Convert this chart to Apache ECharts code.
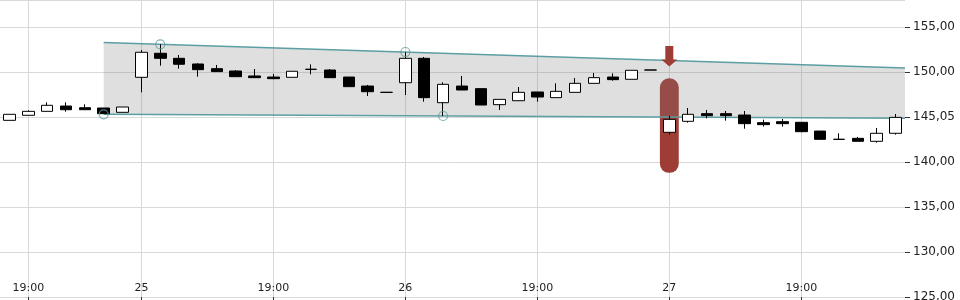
<!DOCTYPE html>
<html>
<head>
<meta charset="utf-8">
<style>
  html, body { margin: 0; padding: 0; background: #fff; }
  #chart { width: 960px; height: 300px; }
</style>
<script src="https://cdn.jsdelivr.net/npm/echarts@6/dist/echarts.min.js"></script>
</head>
<body>
<div id="chart"></div>
<script>
// ---- data ----
const categories = ['0','1','2','3','4','5','6','7','8','9','10','11','12','13','14','15','16','17','18','19','20','21','22','23','24','25','26','27','28','29','30','31','32','33','34','35','36','37','38','39','40','41','42','43','44','45','46','47'];
const tickIndex  = [1, 7, 14, 21, 28, 35, 42];
const tickLabels = ['19:00', '25', '19:00', '26', '19:00', '27', '19:00'];

const opens  = [144.63,145.19,145.63,146.22,146.03,146.00,145.52,149.41,152.08,151.52,150.89,150.37,150.11,149.56,149.44,149.41,150.30,150.22,149.44,148.44,147.74,148.81,151.52,146.59,148.44,148.15,146.37,146.81,147.78,147.15,147.74,148.74,149.44,149.19,150.22,143.30,144.52,145.37,145.37,145.22,144.37,144.48,144.41,143.44,142.52,142.63,142.30,143.19];
const closes = [145.30,145.63,146.30,145.81,145.81,145.37,146.11,152.19,151.52,150.86,150.26,150.04,149.48,149.37,149.26,150.08,150.30,149.37,148.37,147.81,147.74,151.52,147.15,148.63,148.00,146.33,146.96,147.74,147.22,147.85,148.74,149.37,149.15,150.19,150.22,144.74,145.30,145.15,145.15,144.26,144.15,144.26,143.37,142.52,142.52,142.30,143.19,144.96];
const lows   = [144.63,145.19,145.63,145.59,145.81,145.37,145.52,147.74,150.70,150.37,149.48,150.04,149.48,149.37,149.19,149.41,149.74,149.37,148.37,147.33,147.74,147.44,146.70,145.11,148.00,146.33,145.78,146.81,146.70,147.15,147.74,148.74,149.03,149.19,150.22,143.04,144.37,144.85,144.59,143.70,143.93,143.93,143.30,142.52,142.52,142.30,142.15,143.04];
const highs  = [145.30,145.74,146.63,146.63,146.41,146.00,146.11,152.44,153.08,151.89,150.97,150.78,150.22,150.33,149.78,150.08,150.85,150.33,149.44,148.56,147.74,152.19,151.67,148.85,149.56,148.15,146.96,148.33,147.78,148.74,149.33,149.89,149.85,150.19,150.22,145.11,146.00,145.78,145.67,145.67,144.70,144.78,144.41,143.44,143.19,142.78,143.78,145.33];

// trend channel (x in category index units)
const channelX     = [5, 47.5];
const channelUpper = [153.28, 150.44];
const channelLower = [145.30, 144.86];
const anchorX      = [5, 8, 21, 23];
const anchorY      = [145.30, 153.08, 152.22, 145.11];

// highlight marker
const highlightIndex  = 35;
const highlightTop    = 149.3;
const highlightBottom = 138.8;
const arrowTop        = 152.9;
const arrowTip        = 150.6;

const yTicksLabelOverride = { 145: '145,05' };

// ---- chart ----
const chart = echarts.init(document.getElementById('chart'), null, { renderer: 'canvas' });
const candleData = opens.map((o, i) => [o, closes[i], lows[i], highs[i]]);
const isTick = (i) => tickIndex.indexOf(i) >= 0;
const TEAL = '#5c9ea3';
const RED = '#9e3c36';

const option = {
  animation: false,
  backgroundColor: '#fff',
  grid: { left: 0, right: 55, top: 0, bottom: 3, containLabel: false, outerBoundsMode: 'none' },
  xAxis: [
    {
      type: 'category',
      data: categories,
      boundaryGap: true,
      axisLine: { show: false, onZero: false },
      axisTick: {
        show: true, alignWithLabel: true, length: 4, inside: false,
        interval: (i) => isTick(i),
        lineStyle: { color: '#333' }
      },
      axisLabel: {
        inside: true, margin: 3, interval: (i) => isTick(i),
        formatter: (v, i) => { const k = tickIndex.indexOf(i); return k >= 0 ? tickLabels[k] : ''; },
        color: '#222', fontSize: 11, fontFamily: 'DejaVu Sans'
      },
      splitLine: { show: false }
    },
    {
      type: 'value', min: -0.5, max: 47.5, show: false,
      axisLine: { show: false, onZero: false },
      splitLine: { show: false }
    }
  ],
  yAxis: {
    type: 'value', position: 'right', min: 125, max: 158, interval: 5, scale: true,
    axisLine: { show: false, onZero: false },
    axisTick: { show: true, length: 5, inside: false, lineStyle: { color: '#333' } },
    axisLabel: {
      margin: 8, showMaxLabel: false, color: '#222', fontSize: 12, fontFamily: 'DejaVu Sans',
      formatter: (v) => (v >= 158 ? '' : (yTicksLabelOverride[v] || v.toFixed(2).replace('.', ',')))
    },
    splitLine: { show: true, lineStyle: { color: '#d9d9d9', width: 1 } }
  },
  series: [
    {
      // vertical grid lines at labelled positions
      type: 'custom', xAxisIndex: 1, silent: true, z: 0,
      data: tickIndex.map((i) => [i]),
      renderItem: (params, api) => {
        const a = api.coord([api.value(0), 158]);
        const b = api.coord([api.value(0), 125]);
        const x = Math.round(a[0]) + 0.5;
        return { type: 'line', shape: { x1: x, y1: a[1], x2: x, y2: b[1] + 3 }, style: { stroke: '#d9d9d9', lineWidth: 1 } };
      }
    },
    {
      // highlight rounded bar
      type: 'custom', xAxisIndex: 1, silent: true, z: 1,
      data: [[highlightIndex, highlightTop, highlightBottom]],
      renderItem: (params, api) => {
        const w = api.size([1, 0])[0];
        const t = api.coord([api.value(0), api.value(1)]);
        const b = api.coord([api.value(0), api.value(2)]);
        return { type: 'rect', shape: { x: t[0] - w / 2, y: t[1], width: w, height: b[1] - t[1], r: 9 }, style: { fill: RED } };
      }
    },
    {
      // trend channel
      type: 'custom', xAxisIndex: 1, silent: true, z: 2,
      data: [[0]],
      renderItem: (params, api) => {
        const u0 = api.coord([channelX[0], channelUpper[0]]);
        const u1 = api.coord([channelX[1], channelUpper[1]]);
        const l0 = api.coord([channelX[0], channelLower[0]]);
        const l1 = api.coord([channelX[1], channelLower[1]]);
        return {
          type: 'group',
          children: [
            { type: 'polygon', shape: { points: [u0, u1, l1, l0] }, style: { fill: 'rgba(128,128,128,0.25)' } },
            { type: 'line', shape: { x1: u0[0], y1: u0[1], x2: u1[0], y2: u1[1] }, style: { stroke: TEAL, lineWidth: 1.5 } },
            { type: 'line', shape: { x1: l0[0], y1: l0[1], x2: l1[0], y2: l1[1] }, style: { stroke: TEAL, lineWidth: 1.5 } }
          ]
        };
      }
    },
    {
      type: 'candlestick', xAxisIndex: 0, z: 3,
      data: candleData,
      barWidth: 12,
      itemStyle: { color: '#ffffff', color0: '#000000', borderColor: '#000000', borderColor0: '#000000', borderWidth: 1 }
    },
    {
      type: 'scatter', xAxisIndex: 1, z: 4, silent: true,
      data: anchorX.map((x, i) => [x, anchorY[i]]),
      symbol: 'circle', symbolSize: 9,
      itemStyle: { color: 'rgba(0,0,0,0)', borderColor: TEAL, borderWidth: 1.2 }
    },
    {
      // arrow marker
      type: 'custom', xAxisIndex: 1, silent: true, z: 4,
      data: [[highlightIndex, arrowTop, arrowTip]],
      renderItem: (params, api) => {
        const t = api.coord([api.value(0), api.value(1)]);
        const p = api.coord([api.value(0), api.value(2)]);
        const cx = t[0], headH = 7, sw = 4, hw = 8;
        const by = p[1] - headH;
        return {
          type: 'polygon',
          shape: { points: [[cx - sw, t[1]], [cx + sw, t[1]], [cx + sw, by], [cx + hw, by], [cx, p[1]], [cx - hw, by], [cx - sw, by]] },
          style: { fill: RED }
        };
      }
    }
  ]
};
chart.setOption(option);
</script>
</body>
</html>
